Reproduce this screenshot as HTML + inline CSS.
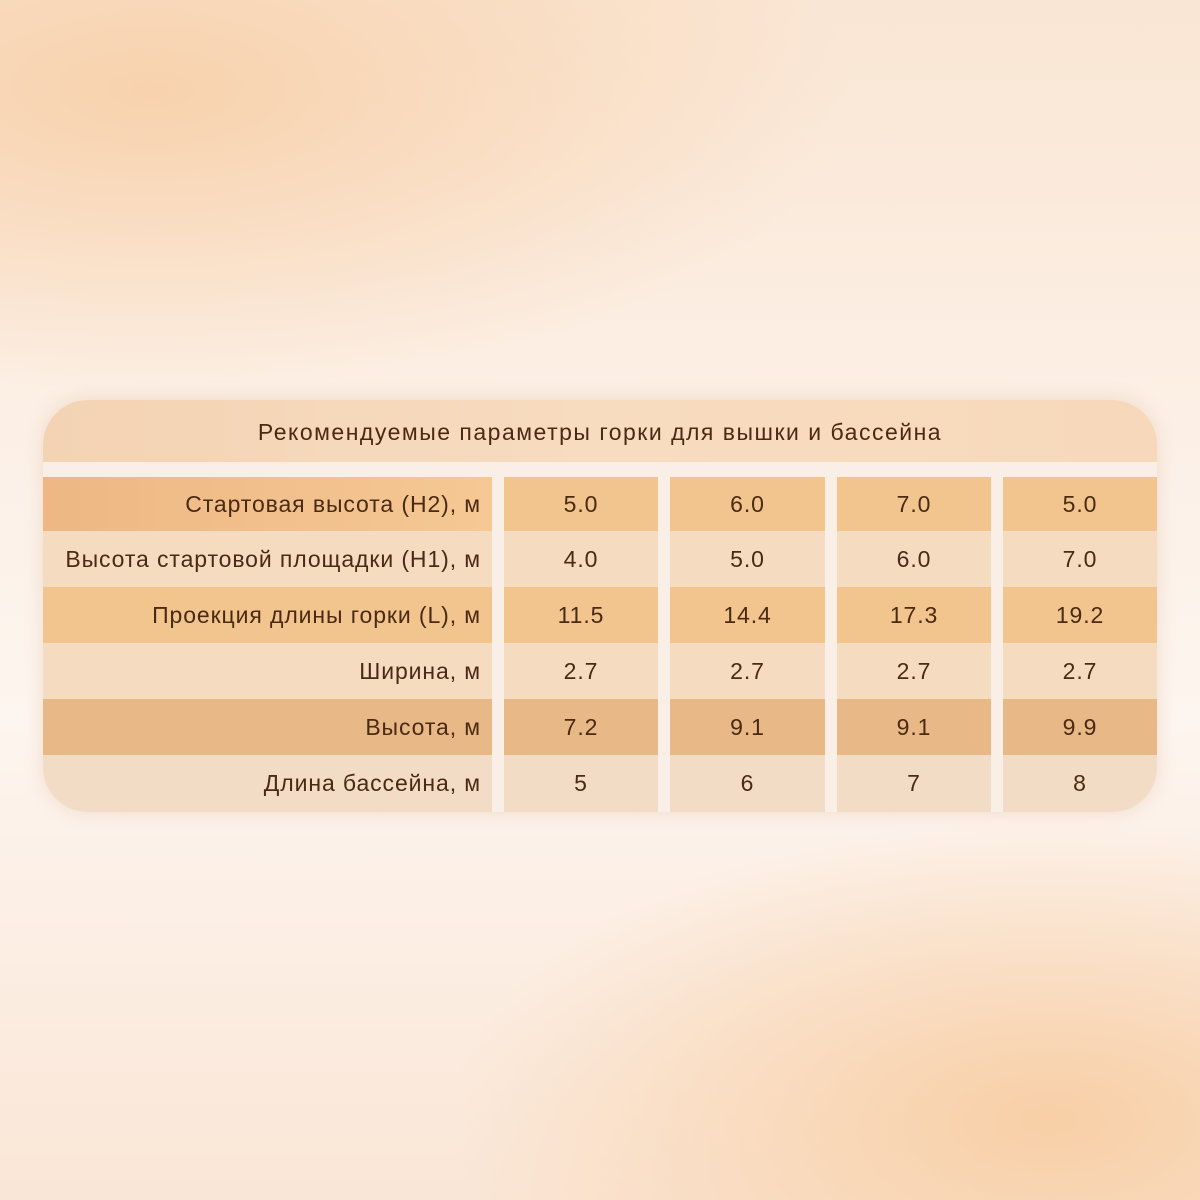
<!DOCTYPE html>
<html><head><meta charset="utf-8"><style>
body{margin:0;width:1200px;height:1200px;overflow:hidden;font-family:"Liberation Sans",sans-serif;
background:radial-gradient(ellipse 700px 300px at 150px 90px,#f8d2ad 0%,rgba(248,210,173,0) 100%),
radial-gradient(ellipse 600px 300px at 1050px 1120px,#f8cfa6 0%,rgba(248,207,166,0) 100%),
linear-gradient(180deg,#fae6d4 0%,#fcf1e8 40%,#fdf5ef 60%,#fae6d6 100%);position:relative}
.card{position:absolute;left:43px;top:400px;width:1114px;height:412px;border-radius:45px;overflow:hidden;background:#f9efe6;box-shadow:0 0 18px rgba(200,150,110,.25)}
.hd{position:absolute;left:0;top:0;width:1114px;height:62px;background:linear-gradient(90deg,#f3d3b3,#f8dcc0 50%,#f7d8ba);color:#4a2a12;font-size:23px;letter-spacing:1.5px;text-align:center;line-height:64px}
.c{position:absolute;color:#4a2a12;font-size:23px;letter-spacing:0.9px;display:flex;align-items:center}
</style></head><body>
<div class="card">
<div class="hd">Рекомендуемые параметры горки для вышки и бассейна</div>
<div id="t"></div>
</div>
<script>
var rows=[["Стартовая высота (H2), м","5.0","6.0","7.0","5.0"],["Высота стартовой площадки (H1), м","4.0","5.0","6.0","7.0"],["Проекция длины горки (L), м","11.5","14.4","17.3","19.2"],["Ширина, м","2.7","2.7","2.7","2.7"],["Высота, м","7.2","9.1","9.1","9.9"],["Длина бассейна, м","5","6","7","8"]];
var ys=[77,131,187,243,299,355,412];
var xs=[[0,449],[461,615],[627,782],[794,948],[960,1114]];
var h="";
rows.forEach(function(r,i){
 var y=ys[i],hh=ys[i+1]-y;
 var bg=i%2==0?(i==4?"#e8b886":"#f2c48e"):(i==5?"#f2dcc6":"#f5dcc0");
 r.forEach(function(t,j){
  var x=xs[j];
  var b=bg;if(j==0&&i==0)b="linear-gradient(90deg,#eeb783,#f5c894)";
  h+='<div class="c" style="left:'+x[0]+'px;top:'+y+'px;width:'+(x[1]-x[0])+'px;height:'+hh+'px;background:'+b+';'+(j==0?'justify-content:flex-end;box-sizing:border-box;padding-right:11px':'justify-content:center')+'">'+t+'</div>';
 });
});
document.getElementById("t").innerHTML=h;
</script>
</body></html>
